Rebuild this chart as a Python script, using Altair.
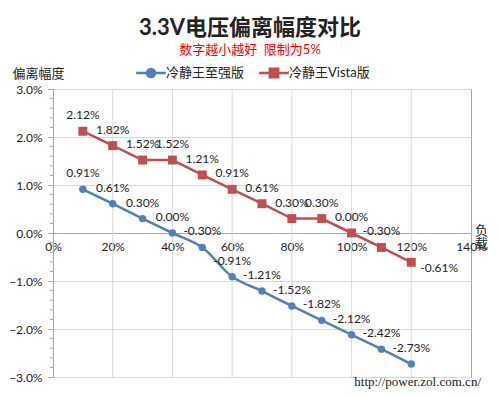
import altair as alt
import pandas as pd

# ---------------- data ----------------
load_pct = [10, 20, 30, 40, 50, 60, 70, 80, 90, 100, 110, 120]
xeon_dev = [0.91, 0.61, 0.30, 0.00, -0.30, -0.91, -1.21, -1.52, -1.82, -2.12, -2.42, -2.73]
vista_dev = [2.12, 1.82, 1.52, 1.52, 1.21, 0.91, 0.61, 0.30, 0.30, 0.00, -0.30, -0.61]
series_names = ["冷静王至强版", "冷静王Vista版"]
series_colors = ["#4F81BD", "#C0504D"]
x_tick_values = [0, 20, 40, 60, 80, 100, 120, 140]
y_major_ticks = [-3.0, -2.0, -1.0, 0.0, 1.0, 2.0, 3.0]
y_minor_ticks = [-2.8, -2.6, -2.4, -2.2, -1.8, -1.6, -1.4, -1.2,
                 -0.8, -0.6, -0.4, -0.2, 0.2, 0.4, 0.6, 0.8,
                 1.2, 1.4, 1.6, 1.8, 2.2, 2.4, 2.6, 2.8]
title_text = "3.3V电压偏离幅度对比"
subtitle_text = "数字越小越好\u00a0\u00a0限制为5%"
y_title = "偏离幅度"
x_title = ["负", "载"]
source_text = "http://power.zol.com.cn/"

FONT = "Lato, Noto Sans CJK SC"
GRID = "#d9d9d9"
FRAME = "#a6a6a6"
TXT = "#222"

rows = []
for name, vals in zip(series_names, [xeon_dev, vista_dev]):
    for l, v in zip(load_pct, vals):
        rows.append({"load": l / 100, "value": v / 100, "series": name,
                     "label": f"{v:.2f}%"})
df = pd.DataFrame(rows)
df["last"] = df["load"] == df["load"].max()

xscale = alt.Scale(domain=[0, 1.4], nice=False, zero=False)
yscale = alt.Scale(domain=[-0.03, 0.03], nice=False, zero=False)

x_axis = alt.Axis(
    values=[v / 100 for v in x_tick_values], format=".0%", offset=-144,
    grid=False, domainColor=FRAME, ticks=False, labelFlush=False,
    labelFont=FONT, labelFontSize=12, labelColor=TXT, labelPadding=8,
    title=x_title, titleFont=FONT, titleFontSize=13, titleFontWeight="normal",
    titleColor=TXT, titleAngle=0, titleX=428, titleY=-9,
    titleBaseline="top", titleAlign="center", titleLineHeight=13)

y_axis = alt.Axis(
    values=[v / 100 for v in y_major_ticks], format=".1%",
    grid=True, gridColor=GRID,
    domainColor=FRAME, tickColor=FRAME, tickSize=5,
    labelFont=FONT, labelFontSize=12, labelColor=TXT, labelPadding=6,
    title=y_title, titleFont=FONT, titleFontSize=13, titleFontWeight="normal",
    titleColor=TXT, titleAngle=0, titleX=-41, titleY=-16,
    titleAlign="left", titleBaseline="middle")

# vertical gridlines (through x scale) — carries the x axis
vgrid = alt.Chart(pd.DataFrame({"load": [v / 100 for v in x_tick_values[1:-1]]})).mark_rule(
    color=GRID, strokeWidth=1).encode(
    x=alt.X("load:Q", scale=xscale, axis=x_axis), y=alt.value(0), y2=alt.value(288))

# minor y ticks (through y scale) — carries the y axis
minor = alt.Chart(pd.DataFrame({"value": [v / 100 for v in y_minor_ticks]})).mark_rule(
    color=FRAME, strokeWidth=1).encode(
    y=alt.Y("value:Q", scale=yscale, axis=y_axis), x=alt.value(-3), x2=alt.value(0))

base = alt.Chart(df)

path_c = "M-1.1,0L1.1,0M0.3,0A0.3,0.3,0,1,1,-0.3,0A0.3,0.3,0,1,1,0.3,0Z"
path_s = "M-1.1,0L1.1,0M-0.31,-0.31L0.31,-0.31L0.31,0.31L-0.31,0.31Z"
paths = [path_c, path_s]
shapes = ["circle", "square"]
sizes = [55, 80]
legend_x = [83, 206]

layers = [vgrid, minor]
point_layers = []
for i, name in enumerate(series_names):
    sub = base.transform_filter(alt.datum.series == name)
    line = sub.mark_line(strokeWidth=2.5, color=series_colors[i],
                         interpolate="catmull-rom" if i == 0 else "linear").encode(
        x="load:Q", y="value:Q")
    layers.append(line)
    pts = sub.mark_point(filled=True, opacity=1, shape=shapes[i], size=sizes[i]).encode(
        x="load:Q", y="value:Q",
        color=alt.Color("series:N",
                        scale=alt.Scale(domain=[name], range=[series_colors[i]]),
                        legend=alt.Legend(
                            orient="none", direction="horizontal",
                            legendX=legend_x[i], legendY=-31, title=None,
                            labelFont=FONT, labelFontSize=13, labelColor=TXT,
                            symbolType=paths[i], symbolSize=729,
                            symbolStrokeColor=series_colors[i],
                            symbolFillColor=series_colors[i],
                            symbolStrokeWidth=2.5, symbolOpacity=1,
                            labelOffset=0)))
    point_layers.append(pts)
layers += point_layers

labels = base.transform_filter(
    ~((alt.datum.series == series_names[1]) & alt.datum.last)).mark_text(
    font=FONT, fontSize=12, color=TXT, dy=-16, baseline="middle", align="center").encode(
    x="load:Q", y="value:Q", text="label:N")
label_last = base.transform_filter(
    (alt.datum.series == series_names[1]) & alt.datum.last).mark_text(
    font=FONT, fontSize=12, color=TXT, dx=9, dy=6, baseline="middle", align="left").encode(
    x="load:Q", y="value:Q", text="label:N")
layers += [labels, label_last]

def free_text(t, x, y, **kw):
    return alt.Chart(pd.DataFrame({"t": [t]})).mark_text(**kw).encode(
        text="t:N", x=alt.value(x), y=alt.value(y))

layers.append(free_text(title_text, 197, -61, font=FONT, fontSize=22, fontWeight="bold",
                        color=TXT, align="center", baseline="middle"))
layers.append(free_text(subtitle_text, 197, -39, font=FONT, fontSize=13,
                        color="#FF0000", align="center", baseline="middle"))
layers.append(free_text(source_text, 428, 293, font="Liberation Serif", fontSize=13,
                        color=TXT, align="right", baseline="middle"))

chart = alt.layer(*layers).resolve_scale(color="independent").properties(
    width=418, height=288,
    autosize=alt.AutoSizeParams(type="none"),
    padding={"left": 45, "top": 81, "right": 21, "bottom": 13},
).configure_view(stroke=FRAME, strokeWidth=1)

chart.save("out.html", embed_options={"renderer": "svg", "actions": False})
